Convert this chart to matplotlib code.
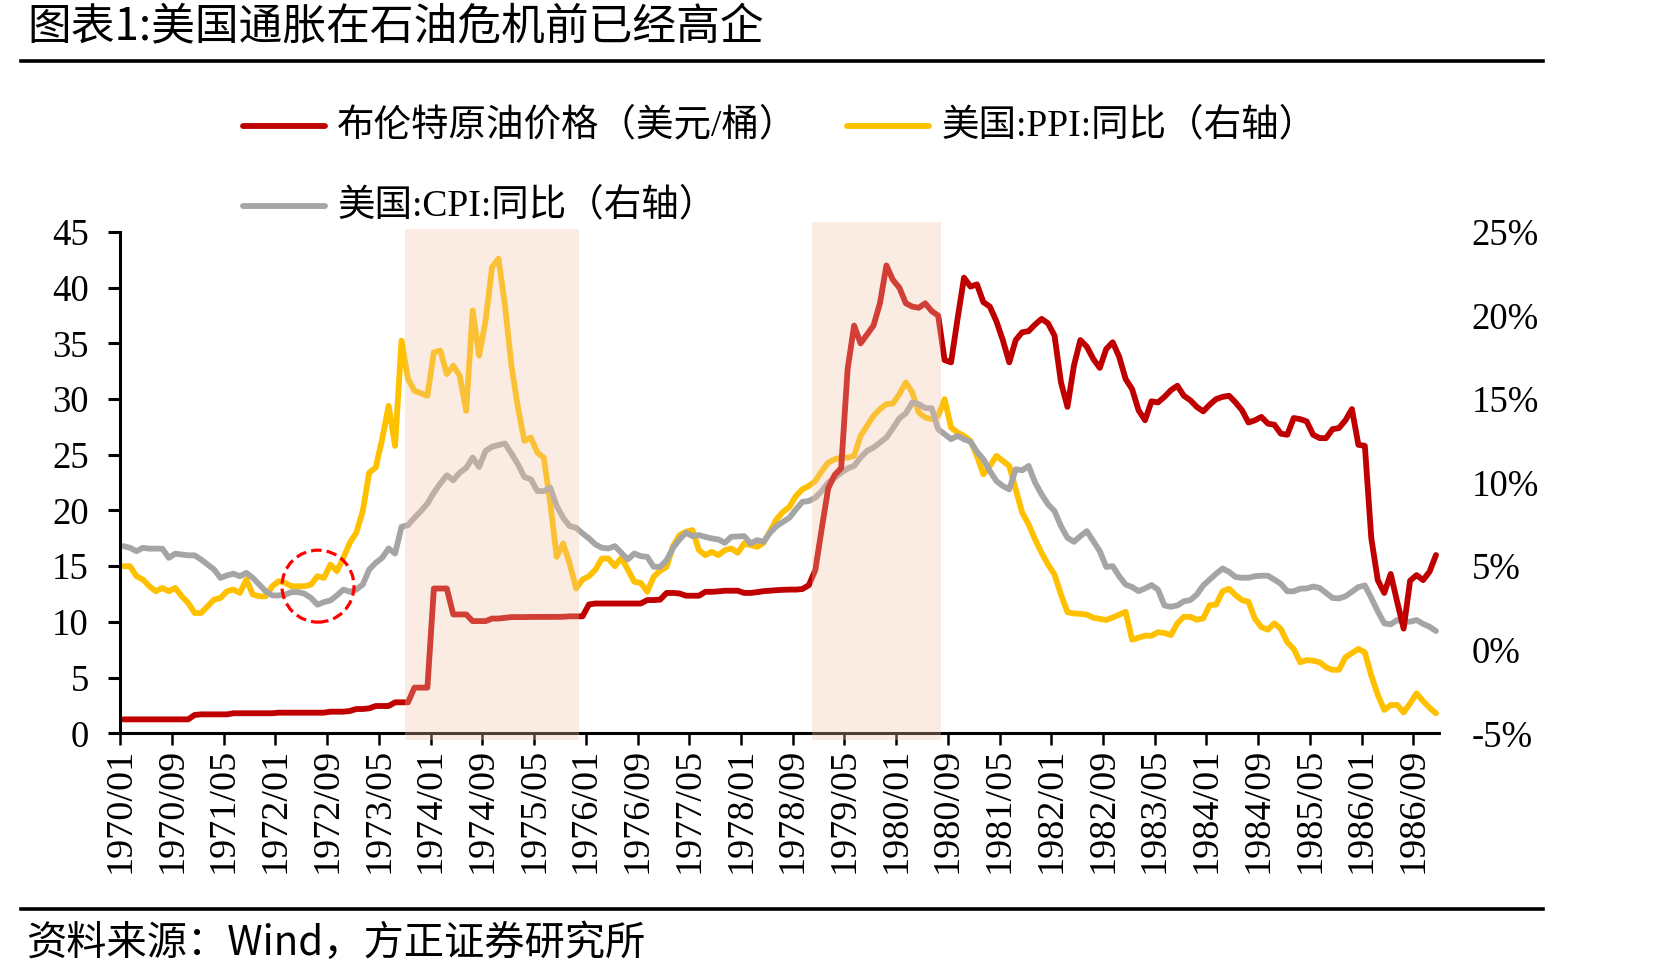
import numpy as np
import pandas as pd
import matplotlib
matplotlib.use("Agg")
import matplotlib.pyplot as plt
from matplotlib.patches import Ellipse
from matplotlib.lines import Line2D

plt.rcParams['font.family'] = ['Liberation Serif', 'Noto Sans CJK SC']

# monthly, 1970/01 - 1986/12
months = pd.period_range('1970-01', '1986-12', freq='M').strftime('%Y/%m').tolist()

# 布伦特原油价格 (USD/bbl), left axis
oil = [
    1.25, 1.25, 1.25, 1.25, 1.25, 1.25, 1.25, 1.25, 1.25, 1.25, 1.25, 1.65,
    1.7, 1.7, 1.7, 1.7, 1.7, 1.8, 1.8, 1.8, 1.8, 1.8, 1.8, 1.8,
    1.85, 1.85, 1.85, 1.85, 1.85, 1.85, 1.85, 1.85, 1.94, 1.94, 1.94, 2.0,
    2.18, 2.18, 2.24, 2.45, 2.45, 2.45, 2.78, 2.78, 2.78, 4.1, 4.1, 4.1,
    13.0, 13.0, 13.0, 10.67, 10.67, 10.67, 10.07, 10.07, 10.07, 10.3, 10.3, 10.37,
    10.43, 10.43, 10.43, 10.45, 10.45, 10.45, 10.45, 10.45, 10.46, 10.5, 10.5, 10.5,
    11.57, 11.65, 11.65, 11.65, 11.65, 11.65, 11.65, 11.65, 11.65, 11.96, 11.96, 12.0,
    12.6, 12.6, 12.55, 12.35, 12.35, 12.35, 12.7, 12.7, 12.74, 12.8, 12.8, 12.8,
    12.6, 12.6, 12.67, 12.76, 12.8, 12.85, 12.88, 12.9, 12.9, 12.95, 13.3, 14.65,
    18.4, 22.0, 23.2, 23.8, 32.7, 36.6, 35.0, 35.8, 36.6, 38.6, 42.0, 40.7,
    40.0, 38.6, 38.3, 38.2, 38.6, 37.9, 37.5, 33.5, 33.3, 37.2, 40.9, 40.1,
    40.3, 38.7, 38.3, 37.0, 35.3, 33.3, 35.3, 36.0, 36.1, 36.7, 37.2, 36.8,
    35.7, 31.5, 29.3, 33.0, 35.3, 34.7, 33.6, 32.8, 34.5, 35.1, 33.8, 31.8,
    30.9, 29.0, 28.1, 29.8, 29.7, 30.2, 30.8, 31.2, 30.3, 29.9, 29.3, 28.9,
    29.5, 30.0, 30.2, 30.3, 29.7, 29.0, 27.9, 28.1, 28.4, 27.8, 27.7, 26.9,
    26.8, 28.3, 28.2, 28.0, 26.8, 26.5, 26.5, 27.3, 27.4, 28.1, 29.1, 25.9,
    25.8, 17.5, 13.75, 12.6, 14.3, 11.8, 9.4, 13.7, 14.2, 13.75, 14.5, 16.0,
]

# 美国:PPI:同比 (%), right axis
ppi = [
    5.0, 5.0, 4.4, 4.2, 3.8, 3.5, 3.7, 3.5, 3.7, 3.2, 2.8, 2.2,
    2.2, 2.6, 3.0, 3.1, 3.5, 3.6, 3.4, 4.2, 3.3, 3.2, 3.2, 3.8,
    4.1, 4.0, 3.8, 3.8, 3.8, 3.9, 4.4, 4.3, 5.1, 4.7, 5.5, 6.4,
    7.0, 8.3, 10.6, 10.9, 12.6, 14.6, 12.2, 18.5, 16.2, 15.5, 15.35, 15.2,
    17.8, 17.9, 16.5, 17.0, 16.4, 14.3, 20.3, 17.6, 19.7, 22.9, 23.4, 20.6,
    17.0, 14.5, 12.5, 12.7, 11.8, 11.5, 8.8, 5.56, 6.36, 5.16, 3.67, 4.2,
    4.4, 4.8, 5.46, 5.46, 5.0, 5.5, 4.8, 4.07, 4.0, 3.47, 4.37, 4.73,
    4.96, 6.2, 6.86, 7.06, 7.16, 5.96, 5.66, 5.86, 5.66, 5.96, 6.06, 5.8,
    6.36, 6.26, 6.16, 6.4, 7.1, 7.8, 8.25, 8.55, 9.2, 9.6, 9.8, 10.1,
    10.7, 11.2, 11.4, 11.5, 11.5, 11.6, 12.8, 13.4, 14.0, 14.4, 14.7, 14.73,
    15.3, 16.0, 15.4, 14.2, 13.9, 13.8, 14.0, 15.0, 13.3, 13.0, 12.8, 12.5,
    11.6, 10.5, 11.0, 11.6, 11.3, 11.0, 9.6, 8.2, 7.5, 6.6, 5.8, 5.1,
    4.5, 3.3, 2.25, 2.17, 2.15, 2.1, 1.92, 1.85, 1.78, 1.93, 2.1, 2.27,
    0.6, 0.72, 0.84, 0.84, 1.05, 1.0, 0.88, 1.58, 1.97, 1.97, 1.8, 1.88,
    2.67, 2.7, 3.5, 3.65, 3.27, 2.97, 2.87, 1.85, 1.35, 1.2, 1.58, 1.25,
    0.45, 0.05, -0.75, -0.62, -0.65, -0.75, -1.05, -1.2, -1.2, -0.45, -0.2, 0.05,
    -0.16, -1.55, -2.7, -3.6, -3.31, -3.3, -3.75, -3.21, -2.61, -3.07, -3.47, -3.8,
]

# 美国:CPI:同比 (%), right axis
cpi = [
    6.2, 6.1, 5.9, 6.1, 6.05, 6.05, 6.05, 5.5, 5.75, 5.7, 5.65, 5.65,
    5.4, 5.1, 4.8, 4.3, 4.45, 4.55, 4.4, 4.6, 4.3, 3.9, 3.5, 3.25,
    3.25, 3.3, 3.45, 3.45, 3.35, 3.1, 2.7, 2.85, 2.95, 3.25, 3.6, 3.47,
    3.6, 3.9, 4.8, 5.2, 5.5, 6.06, 5.76, 7.36, 7.46, 7.9, 8.3, 8.75,
    9.4, 9.95, 10.44, 10.14, 10.6, 10.88, 11.5, 10.94, 11.9, 12.15, 12.25, 12.34,
    11.74, 11.1, 10.34, 10.2, 9.5, 9.49, 9.7, 8.6, 7.9, 7.4, 7.3, 6.96,
    6.66, 6.3, 6.1, 6.06, 6.2, 5.8, 5.4, 5.76, 5.6, 5.56, 4.96, 4.96,
    5.36, 6.1, 6.6, 7.0, 6.8, 6.86, 6.75, 6.66, 6.6, 6.4, 6.76, 6.78,
    6.8, 6.36, 6.56, 6.46, 7.0, 7.4, 7.65, 7.9, 8.4, 8.85, 8.9, 9.1,
    9.5, 10.0, 10.3, 10.6, 10.85, 11.0, 11.5, 11.9, 12.1, 12.4, 12.7, 13.25,
    13.85, 14.15, 14.8, 14.7, 14.47, 14.45, 13.2, 12.9, 12.6, 12.8, 12.6, 12.45,
    11.85, 11.4, 10.7, 10.1, 9.8, 9.6, 10.8, 10.74, 11.0, 10.0, 9.3, 8.7,
    8.3, 7.4, 6.7, 6.46, 6.8, 7.1, 6.5, 5.9, 4.96, 5.0, 4.4, 3.9,
    3.75, 3.51, 3.67, 3.87, 3.6, 2.65, 2.57, 2.65, 2.9, 2.97, 3.3, 3.85,
    4.2, 4.55, 4.86, 4.66, 4.35, 4.31, 4.31, 4.4, 4.43, 4.43, 4.2, 3.95,
    3.5, 3.5, 3.65, 3.67, 3.78, 3.7, 3.4, 3.1, 3.07, 3.2, 3.47, 3.75,
    3.85, 3.1, 2.3, 1.58, 1.52, 1.78, 1.68, 1.68, 1.78, 1.55, 1.38, 1.12,
]

labels = ['布伦特原油价格（美元/桶）', '美国:PPI:同比（右轴）', '美国:CPI:同比（右轴）']
colors = ['#C00000', '#FFC000', '#A5A5A5']

# oil shock periods, as month index ranges (start, end)
shades = [(44, 71, 1.006), (107, 127, 1.019)]

W, H = 1671, 980
fig = plt.figure(figsize=(W / 100, H / 100), dpi=100)
ax = fig.add_axes([120.3 / W, 246.7 / H, 1318.9 / W, 501.3 / H])
ax2 = ax.twinx()
ax.set_zorder(ax2.get_zorder() + 1)
ax.patch.set_visible(False)

x = np.arange(len(oil)) + 0.5  # category centres
lw = 4.2
ax2.plot(x, ppi, color=colors[1], lw=lw, solid_joinstyle='round', solid_capstyle='round')
ax2.plot(x, cpi, color=colors[2], lw=lw, solid_joinstyle='round', solid_capstyle='round')
ax.plot(x, oil, color=colors[0], lw=lw, solid_joinstyle='round', solid_capstyle='round', zorder=2)

for s, e, top in shades:
    ax.axvspan(s, e, ymin=-0.014, ymax=top, color='#F5C6AA', alpha=0.32, lw=0,
               zorder=3, clip_on=False)

# dashed circle marking 1972
circ = Ellipse((30.58, 13.21), 11.14, 6.46, fill=False, ec='#FF0000', lw=2.3,
               ls=(0, (3.3, 1.6)), zorder=4)
ax.add_patch(circ)

ax.set_xlim(0, len(oil))
ax.set_ylim(0, 45)
ax.set_yticks(range(0, 46, 5))
ax.set_xticks(range(0, len(oil), 8))
ax.set_xticklabels(months[::8])
ax.tick_params(axis='x', direction='out', length=8.6, width=1.8, pad=2,
               labelrotation=90, labelsize=27.5)
ax.tick_params(axis='y', direction='out', length=8.6, width=2.2, pad=14, labelsize=26.5)
for sp in ['top', 'right']:
    ax.spines[sp].set_visible(False)
for sp in ['left', 'bottom']:
    ax.spines[sp].set_linewidth(2.2)

ax2.set_ylim(-5, 25)
ax2.set_yticks(range(-5, 26, 5))
ax2.set_yticklabels([f'{v}%' for v in range(-5, 26, 5)])
ax2.tick_params(axis='y', length=0, pad=23.4, labelsize=26.5)
for sp in ax2.spines.values():
    sp.set_visible(False)

# legend, drawn by hand (two columns)
leg_pos = [(243, 126), (847, 126), (243, 206)]
for (px, py), lab, c in zip(leg_pos, labels, colors):
    fig.add_artist(Line2D([px / W, (px + 82) / W], [1 - py / H] * 2, lw=lw, color=c,
                          solid_capstyle='round'))
    fig.text((px + 94) / W, 1 - py / H, lab, fontsize=27, va='center')

# title, rules and source
fig.text(27 / W, 1 - 27 / H, '图表1:美国通胀在石油危机前已经高企', fontsize=31.5,
         family='Noto Sans CJK SC', va='center')
fig.add_artist(Line2D([21 / W, 1543 / W], [1 - 61 / H] * 2, lw=2.6, color='black'))
fig.add_artist(Line2D([21 / W, 1543 / W], [1 - 909 / H] * 2, lw=2.6, color='black'))
fig.text(27 / W, 1 - 943 / H, '资料来源：Wind，方正证券研究所', fontsize=29,
         family='Noto Sans CJK SC', va='center')

fig.savefig('out.png', dpi=100)
